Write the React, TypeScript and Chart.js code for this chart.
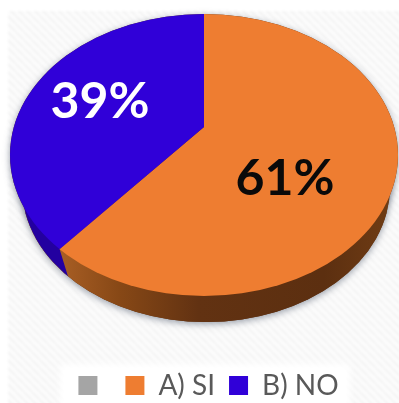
import React, { useEffect, useRef } from "react";
import { Chart, registerables } from "chart.js";

Chart.register(...registerables);

const categories = ["", "A) SI", "B) NO"];
const shares = [0, 61, 39];
const faceColors = ["#a5a5a5", "#ee7d31", "#3000d8"];

// Pie geometry: a tilted disc whose hub sits above the centre of its rim.
const W = 399;
const H = 403;
const RIM = { cx: 204, cy: 155, rx: 194, ry: 141 };
const BASE = { cx: 206, cy: 187, rx: 184, ry: 135 };
const HUB = { x: 204, y: 127, squash: 0.7 };
const SEAM_DROP = { dx: 8, dy: 26 };

const labelSpots = [
  null,
  { x: 285, y: 179, color: "#0a0a0a" },
  { x: 100, y: 102, color: "#ffffff" },
];

function hatch(): HTMLCanvasElement {
  const tile = document.createElement("canvas");
  tile.width = 8;
  tile.height = 8;
  const c = tile.getContext("2d")!;
  c.fillStyle = "#fdfdfd";
  c.fillRect(0, 0, 8, 8);
  c.strokeStyle = "#f4f4f4";
  c.lineWidth = 2.6;
  for (let i = -8; i <= 16; i += 8) {
    c.beginPath();
    c.moveTo(i, 0);
    c.lineTo(i + 8, 8);
    c.stroke();
  }
  return tile;
}

const tiltedPie = {
  id: "tiltedPie",
  beforeDraw(chart: any) {
    const ctx = chart.ctx;
    ctx.save();
    ctx.fillStyle = "#ffffff";
    ctx.fillRect(0, 0, W, H);
    ctx.fillStyle = ctx.createPattern(hatch(), "repeat");
    ctx.filter = "blur(1px)";
    ctx.fillRect(8, 11, W, H);
    ctx.filter = "blur(3px)";
    ctx.fillStyle = "#ffffff";
    ctx.fillRect(60, 364, 290, 50);
    ctx.restore();
  },
  beforeDatasetsDraw(chart: any) {
    const ctx = chart.ctx;
    const arcs = chart.getDatasetMeta(0).data;
    const orange = arcs[1];

    // Rim point where the two visible slices meet.
    const a = orange.endAngle;
    const ux = Math.cos(a);
    const uy = Math.sin(a) * HUB.squash;
    const ox = (HUB.x - RIM.cx) / RIM.rx;
    const oy = (HUB.y - RIM.cy) / RIM.ry;
    const dx = ux / RIM.rx;
    const dy = uy / RIM.ry;
    const qa = dx * dx + dy * dy;
    const qb = 2 * (ox * dx + oy * dy);
    const qc = ox * ox + oy * oy - 1;
    const t = (-qb + Math.sqrt(qb * qb - 4 * qa * qc)) / (2 * qa);
    const seamX = HUB.x + ux * t;
    const seamY = HUB.y + uy * t;

    const baseOutline = () => {
      ctx.beginPath();
      ctx.ellipse(BASE.cx, BASE.cy, BASE.rx, BASE.ry, 0, 0, Math.PI * 2);
    };

    // Soft drop shadow under the disc.
    ctx.save();
    ctx.shadowColor = "rgba(70,80,100,0.55)";
    ctx.shadowBlur = 7;
    ctx.shadowOffsetY = 2;
    ctx.fillStyle = "#5a2e10";
    baseOutline();
    ctx.fill();
    ctx.beginPath();
    ctx.ellipse(RIM.cx, RIM.cy, RIM.rx, RIM.ry, 0, 0, Math.PI * 2);
    ctx.fill();
    ctx.restore();

    // Orange wall, lit from the left.
    const wall = ctx.createLinearGradient(60, 0, 390, 0);
    wall.addColorStop(0, "#a85e24");
    wall.addColorStop(0.18, "#874816");
    wall.addColorStop(0.42, "#623212");
    wall.addColorStop(0.8, "#5c2f10");
    wall.addColorStop(1, "#6f3c14");
    ctx.fillStyle = wall;
    baseOutline();
    ctx.fill();

    // Blue wall, left of the seam.
    const k = SEAM_DROP.dx / SEAM_DROP.dy;
    ctx.save();
    ctx.beginPath();
    ctx.moveTo(0, 0);
    ctx.lineTo(seamX - seamY * k, 0);
    ctx.lineTo(seamX + (H - seamY) * k, H);
    ctx.lineTo(0, H);
    ctx.closePath();
    ctx.clip();
    ctx.fillStyle = "#2300a0";
    baseOutline();
    ctx.fill();
    ctx.restore();

    // Faces: the library's arcs, squashed around the hub and cut by the rim.
    ctx.save();
    ctx.beginPath();
    ctx.ellipse(RIM.cx, RIM.cy, RIM.rx, RIM.ry, 0, 0, Math.PI * 2);
    ctx.clip();
    const s = 260 / orange.outerRadius;
    ctx.translate(HUB.x, HUB.y);
    ctx.scale(s, s * HUB.squash);
    ctx.translate(-orange.x, -orange.y);
  },
  afterDatasetsDraw(chart: any) {
    const ctx = chart.ctx;
    ctx.restore();
    ctx.save();
    ctx.font = "bold 50px Lato";
    ctx.textAlign = "center";
    ctx.textBaseline = "middle";
    shares.forEach((v, i) => {
      const spot = labelSpots[i];
      if (!spot) return;
      ctx.fillStyle = spot.color;
      ctx.fillText(`${v}%`, spot.x, spot.y);
    });
    ctx.restore();
  },
};

export default function App() {
  const ref = useRef<HTMLCanvasElement>(null);
  useEffect(() => {
    const chart = new Chart(ref.current!, {
      type: "pie",
      data: {
        labels: categories,
        datasets: [
          {
            data: shares,
            backgroundColor: faceColors,
            borderWidth: 0,
            clip: false,
          } as any,
        ],
      },
      options: {
        responsive: false,
        animation: false,
        layout: { padding: { bottom: -6.5, left: 18 } },
        plugins: {
          tooltip: { enabled: false },
          legend: {
            position: "bottom",
            labels: {
              boxWidth: 19,
              boxHeight: 19,
              padding: 14,
              color: "#595959",
              font: { family: "Lato", size: 28 },
            },
          },
        },
      },
      plugins: [tiltedPie],
    });
    return () => chart.destroy();
  }, []);
  return (
    <canvas
      ref={ref}
      width={W}
      height={H}
      style={{ position: "absolute", left: 0, top: 0, display: "block" }}
    />
  );
}
